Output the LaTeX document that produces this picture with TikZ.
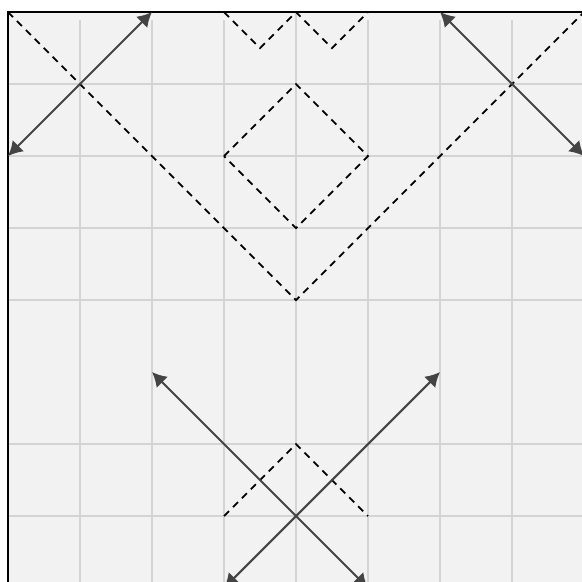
\documentclass[tikz,border=0pt]{standalone}
\usepackage{tikz}
\usetikzlibrary{arrows.meta}
\definecolor{panelbg}{HTML}{F2F2F2}
\definecolor{gridgray}{HTML}{D4D4D4}
\definecolor{arrowgray}{HTML}{444444}

\begin{document}
\begin{tikzpicture}[
    gridline/.style={draw=gridgray, line width=0.5pt},
    fold/.style={draw=black, line width=0.7pt, dash pattern=on 2.8pt off 2.2pt},
    flow/.style={draw=arrowgray, line width=0.8pt,
        {Latex[length=2mm,width=2.2mm]}-{Latex[length=2mm,width=2.2mm]}}
]
    % Canvas
    \useasboundingbox (-4.111,-0.903) rectangle (3.972,7.167);
    \clip (-4.111,-0.903) rectangle (3.972,7.167);
    \fill[panelbg] (-4,-1) rectangle (4,7);

    % Grid
    \foreach \x in {-3,-2,-1,1,2,3}
        \draw[gridline] (\x,-1) -- (\x,6.89);
    \draw[gridline] (0,-1) -- (0,7);
    \foreach \y in {0,1,3,4,5,6}
        \draw[gridline] (-4,\y) -- (4,\y);

    % Frame
    \draw[line width=0.8pt] (-4,-1) -- (-4,7) -- (4,7);

    % Coordinates
    \coordinate (TL) at (-4,7);
    \coordinate (TR) at (4,7);
    \coordinate (V) at (0,3);
    \coordinate (DL) at (-1,5);
    \coordinate (DT) at (0,6);
    \coordinate (DR) at (1,5);
    \coordinate (DB) at (0,4);
    \coordinate (W1) at (-1,7);
    \coordinate (W2) at (-0.5,6.5);
    \coordinate (W3) at (0,7);
    \coordinate (W4) at (0.5,6.5);
    \coordinate (W5) at (1,7);
    \coordinate (HL) at (-1,0);
    \coordinate (HT) at (0,1);
    \coordinate (HR) at (1,0);

    % Dashed folds
    \draw[fold] (TL) -- (V) -- (TR);
    \draw[fold] (DL) -- (DT) -- (DR) -- (DB) -- cycle;
    \draw[fold] (W1) -- (W2) -- (W3) -- (W4) -- (W5);
    \draw[fold] (HL) -- (HT) -- (HR);

    % Arrows at the top
    \coordinate (A1) at (-4,5);
    \coordinate (A2) at (-2,7);
    \coordinate (B1) at (2,7);
    \coordinate (B2) at (4,5);
    \draw[flow] (A1) -- (A2);
    \draw[flow] (B1) -- (B2);

    % Crossing arrows at the bottom
    \coordinate (C1) at (-2,2);
    \coordinate (C2) at (1,-1);
    \coordinate (D1) at (2,2);
    \coordinate (D2) at (-1,-1);
    \draw[flow] (C1) -- (C2);
    \draw[flow] (D1) -- (D2);
\end{tikzpicture}
\end{document}
